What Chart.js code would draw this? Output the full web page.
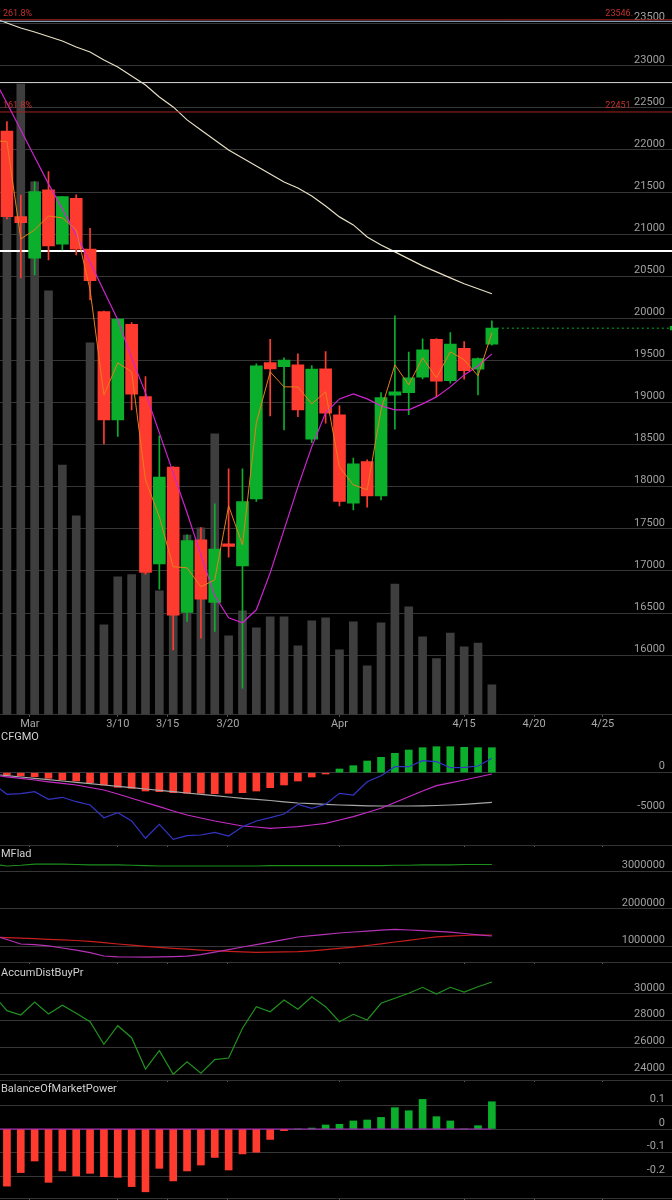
<!DOCTYPE html>
<html>
<head>
<meta charset="utf-8">
<script src="https://cdn.jsdelivr.net/npm/chart.js@4.4.0/dist/chart.umd.min.js"></script>
<style>
  html, body { margin: 0; padding: 0; background: #000; }
  #wrap { position: relative; width: 672px; height: 1200px; background: #000; overflow: hidden; }
  #wrap canvas { position: absolute; left: 0; }
</style>
</head>
<body>
<div id="wrap">
  <canvas id="cMain" width="672" height="732" style="top:0px"></canvas>
  <canvas id="cCfg" width="672" height="115" style="top:732px"></canvas>
  <canvas id="cMf" width="672" height="117" style="top:847px"></canvas>
  <canvas id="cAd" width="672" height="118" style="top:964px"></canvas>
  <canvas id="cBomp" width="672" height="118" style="top:1082px"></canvas>
</div>
<script>
// x axis: trading day index, with date labels
const xTickPos = [1.66, 8, 11.6, 15.95, 24, 33, 38.05, 43];
const xTickLabels = ['Mar', '3/10', '3/15', '3/20', 'Apr', '4/15', '4/20', '4/25'];

// daily candles (index 0 = first visible session)
const opens  = [22225, 21208, 20714, 21525, 20880, 21426, 20824, 20080, 18794, 19930, 19071, 17084, 18232, 16506, 17369, 16625, 17322, 17060,
                17856, 19474, 19427, 19447, 18565, 19400, 18853, 17805, 18299, 17891, 19087, 19118, 19301, 19752, 19261, 19645, 19396, 19693];
const highs  = [22336, 21465, 21624, 21742, 21450, 21466, 21070, 20085, 20000, 19950, 19308, 18604, 18240, 17428, 17515, 17797, 18212, 18212,
                19460, 19752, 19530, 19578, 19440, 19605, 18960, 18339, 18320, 19118, 20029, 19598, 19756, 19760, 19830, 19724, 19530, 19970];
const lows   = [21180, 20480, 20516, 20694, 20813, 20753, 20219, 18509, 18596, 18913, 16960, 16784, 16063, 16399, 16202, 16280, 17164, 15608,
                17824, 18841, 18675, 18833, 18524, 18755, 17773, 17725, 17757, 17844, 18684, 18857, 19280, 19071, 19230, 19277, 19091, 19680];
const closes = [21208, 21137, 21505, 20860, 21445, 20821, 20448, 18794, 19990, 19099, 16981, 18114, 16475, 17361, 16665, 17259, 17290, 17824,
                19435, 19400, 19503, 18913, 19396, 18873, 17824, 18271, 17891, 19059, 19126, 19293, 19625, 19253, 19693, 19379, 19522, 19883];
const volumes = [1440, 1765, 1491, 1186, 699, 557, 1041, 252, 386, 392, 397, 347, 322, 503, 523, 786, 221, 291,
                 243, 274, 274, 193, 263, 271, 182, 260, 137, 257, 366, 302, 218, 157, 229, 190, 201, 84];

// indicator lines: first value is the prior session (index -1), cut off at the left edge
const maFast = [22110, 22099, 20943, 21050, 21216, 21193, 21050, 20340, 19091, 19471, 19364, 18082, 17642, 17049, 17037, 16811, 16894, 17773, 17310,
                18758, 19364, 19186, 19186, 18984, 19127, 18236, 18022, 17963, 18913, 19447, 19210, 19530, 19293, 19602, 19507, 19317, 19828];
const maMid  = [22867, 22558, 22238, 21917, 21597, 21300, 20991, 20670, 20326, 19982, 19530, 19115, 18640, 18165, 17690, 17191, 16704, 16443, 16384,
                16538, 16977, 17488, 17998, 18473, 18877, 19043, 19103, 19043, 18960, 18913, 18913, 18984, 19067, 19186, 19328, 19435, 19578];
const maLong = [23571, 23508, 23449, 23401, 23348, 23294, 23223, 23164, 23069, 22986, 22879, 22772, 22630, 22511, 22357, 22238, 22119, 22000, 21905,
                21810, 21715, 21620, 21549, 21454, 21335, 21205, 21110, 20967, 20872, 20789, 20706, 20623, 20552, 20481, 20410, 20351, 20292];
const priceTicks = [16000, 16500, 17000, 17500, 18000, 18500, 19000, 19500, 20000, 20500, 21000, 21500, 22000, 22500, 23000, 23500];
const fibLevels = [23546, 22451];
const fibPct = ['261.8%', '161.8%'];
const blueLevels = [23528];
const whiteLevels = [22800];
const whiteBoldLevels = [20800];

// CFGMO (histogram per session; lines start with prior session)
const cfgHist   = [-293, -420, -509, -712, -929, -1056, -1272, -1565, -1857, -1984, -2328, -2417, -2544, -2620, -2620, -2671, -2620, -2544,
                   -2328, -1908, -1565, -1056, -547, -165, 471, 890, 1488, 1959, 2468, 2887, 3180, 3307, 3307, 3231, 3180, 3180];
const cfgMain   = [-1374, -2748, -2671, -2417, -3384, -3129, -3689, -4109, -5724, -5088, -6144, -8344, -6564, -8472, -8014, -7925, -7581, -8052, -6869,
                   -6144, -5724, -5253, -4020, -4528, -4020, -2620, -2837, -1145, -382, 763, 763, 1526, 1399, 636, 687, 852, 1832];
const cfgSignal = [-318, -522, -712, -929, -1158, -1348, -1565, -1883, -2201, -2709, -3256, -3791, -4325, -4872, -5381, -5762, -6144, -6462, -6780,
                   -6907, -7072, -6971, -6869, -6653, -6436, -6017, -5597, -5063, -4528, -3791, -3053, -2328, -1654, -1285, -929, -547, -165];
const cfgSlow   = [-204, -382, -547, -725, -890, -1056, -1221, -1399, -1565, -1743, -1908, -2073, -2239, -2417, -2582, -2748, -2926, -3091, -3269,
                   -3384, -3536, -3702, -3854, -3930, -4020, -4109, -4159, -4210, -4236, -4236, -4236, -4210, -4172, -4109, -4020, -3905, -3765];
const cfgTicks = [-5000, 0];

// MFlad
const mfGreen = [3200000, 3150000, 3170000, 3200000, 3200000, 3200000, 3190000, 3180000, 3180000, 3180000, 3170000, 3160000, 3150000, 3150000,
                 3150000, 3150000, 3150000, 3150000, 3150000, 3150000, 3160000, 3160000, 3160000, 3160000, 3160000, 3160000, 3160000, 3160000,
                 3160000, 3170000, 3170000, 3180000, 3180000, 3180000, 3190000, 3190000, 3190000];
const mfRed   = [1242000, 1226000, 1210000, 1196000, 1180000, 1164000, 1148000, 1124000, 1089000, 1054000, 1022000, 989000, 962000, 935000,
                 914000, 890000, 873000, 857000, 841000, 831000, 836000, 841000, 847000, 871000, 901000, 935000, 970000, 1013000, 1059000,
                 1108000, 1153000, 1202000, 1245000, 1266000, 1282000, 1296000, 1296000];
const mfMag   = [1293000, 1175000, 1054000, 1038000, 1003000, 946000, 890000, 820000, 731000, 707000, 704000, 699000, 710000, 715000,
                 726000, 766000, 836000, 903000, 973000, 1035000, 1102000, 1172000, 1242000, 1280000, 1315000, 1349000, 1376000, 1401000,
                 1425000, 1449000, 1430000, 1414000, 1395000, 1371000, 1336000, 1301000, 1269000];
const mfTicks = [1000000, 2000000, 3000000];

// AccumDistBuyPr
const adLine = [29948, 28748, 28425, 29400, 28500, 29153, 28553, 27923, 26228, 27623, 26723, 24375, 25748, 23978, 24923, 24053, 25073, 25200, 27428,
                29048, 28673, 29550, 28853, 29798, 29048, 27923, 28478, 28050, 29303, 29678, 30053, 30503, 30000, 30503, 30150, 30548, 30900];
const adTicks = [24000, 26000, 28000, 30000];

// BalanceOfMarketPower
const bompBars = [-0.241, -0.184, -0.135, -0.225, -0.177, -0.198, -0.187, -0.201, -0.204, -0.243, -0.265, -0.166, -0.219, -0.177, -0.152,
                  -0.120, -0.173, -0.105, -0.098, -0.044, -0.007, 0, 0.004, 0.017, 0.020, 0.034, 0.038, 0.049, 0.090, 0.077, 0.125,
                  0.052, 0.034, 0, 0.014, 0.115];
const bompSignal = [0, 0, 0, 0, 0, 0, 0, 0, 0, 0, 0, 0, 0, 0, 0, 0, 0, 0, 0, 0, 0, 0, 0, 0, 0, 0, 0, 0, 0, 0, 0, 0, 0, 0, 0, 0, 0];
const bompTicks = [-0.2, -0.1, 0, 0.1];

const RED = '#ff3b30';
const GREEN = '#0caf2c';
const FONT = 'Roboto, "Liberation Sans", sans-serif';

Chart.defaults.font.family = FONT;
Chart.defaults.color = '#a0a0a0';
Chart.defaults.animation = false;
Chart.defaults.events = [];
Chart.defaults.plugins.legend.display = false;
Chart.defaults.plugins.tooltip.enabled = false;

const pts = (arr, start) => arr.map((y, i) => ({ x: i + (start || 0), y: y }));
const X_MIN = -0.5, X_MAX = 48;
const LAYOUT = { autoPadding: false, padding: 0 };

function xAxis(showLabels) {
  return {
    type: 'linear', min: X_MIN, max: X_MAX, offset: false,
    afterBuildTicks: s => { s.ticks = xTickPos.map(v => ({ value: v })); },
    afterFit: s => { s.paddingLeft = 0; s.paddingRight = 0; },
    grid: { display: true, drawOnChartArea: false, drawTicks: true, tickLength: 2, color: '#5a5a5a', offset: false },
    border: { display: true, color: '#333' },
    ticks: showLabels
      ? { display: true, autoSkip: false, maxRotation: 0, padding: 1, color: '#a8a8a8', font: { size: 11 }, callback: (v, i) => xTickLabels[i] }
      : { display: false }
  };
}

function yAxis(min, max, tickVals) {
  return {
    type: 'linear', position: 'right', min: min, max: max,
    afterBuildTicks: s => { s.ticks = tickVals.map(v => ({ value: v })); },
    afterFit: s => { s.width = 0; s.paddingTop = 0; s.paddingBottom = 0; },
    grid: { color: '#363636', drawTicks: false },
    border: { display: false },
    ticks: { mirror: true, padding: -7, labelOffset: -6, color: '#a0a0a0', font: { size: 11 }, callback: v => String(v) }
  };
}

function titlePlugin(text, dy) {
  return {
    id: 'panelTitle',
    afterDraw(chart) {
      const c = chart.ctx;
      c.save();
      c.font = '11px ' + FONT;
      c.fillStyle = '#d0d0d0';
      c.textBaseline = 'middle';
      c.textAlign = 'left';
      c.fillText(text, chart.chartArea.left + 1, chart.chartArea.top + dy);
      c.restore();
    }
  };
}

function hline(v, color, width) {
  return {
    type: 'line', data: [{ x: X_MIN, y: v }, { x: X_MAX, y: v }],
    borderColor: color, borderWidth: width, pointRadius: 0, pointHoverRadius: 0, order: 8
  };
}

// line series that begin one session before the first candle
const lineDs = (arr, color, order, width) => ({
  type: 'line', data: pts(arr, -1), borderColor: color, borderWidth: width || 1.2,
  pointRadius: 0, pointHoverRadius: 0, tension: 0, order: order
});

// ---------- main price panel ----------
const candleColors = closes.map((c, i) => c >= opens[i] ? GREEN : RED);
const last = closes.length - 1;

const fibPlugin = {
  id: 'fibText',
  afterDatasetsDraw(chart) {
    const c = chart.ctx, y = chart.scales.y;
    c.save();
    c.font = '9px ' + FONT;
    c.fillStyle = '#c2322c';
    c.textBaseline = 'middle';
    fibLevels.forEach((lv, k) => {
      const py = y.getPixelForValue(lv) - 6.5;
      c.textAlign = 'left';
      c.fillText(fibPct[k], 3, py);
      c.textAlign = 'right';
      c.fillText(lv + '.', 633, py);
    });
    c.restore();
  }
};

new Chart(document.getElementById('cMain'), {
  type: 'bar',
  data: {
    datasets: [
      { type: 'bar', data: pts(volumes), yAxisID: 'yv', backgroundColor: '#3e3e3e', barThickness: 8, grouped: false, order: 10 },
      lineDs(maLong, '#e6dfc4', 9, 1.2),
      ...fibLevels.map(v => hline(v, '#a3231f', 1)),
      ...blueLevels.map(v => hline(v, '#9cc4de', 1)),
      ...whiteLevels.map(v => hline(v, '#d8d8d8', 1)),
      ...whiteBoldLevels.map(v => hline(v, '#ffffff', 2)),
      { type: 'bar', data: lows.map((l, i) => ({ x: i, y: [l, highs[i]] })), backgroundColor: candleColors,
        barThickness: 1, grouped: false, order: 5 },
      { type: 'bar', data: opens.map((o, i) => ({ x: i, y: [o, closes[i]] })), backgroundColor: candleColors,
        barThickness: 12, grouped: false, order: 4, minBarLength: 2 },
      { type: 'line', data: [{ x: last, y: closes[last] }, { x: X_MAX, y: closes[last] }], borderColor: GREEN,
        borderWidth: 1, borderDash: [2, 3], pointRadius: [0, 3], pointHoverRadius: 0, pointStyle: 'rect',
        pointBackgroundColor: GREEN, pointBorderWidth: 0, order: 3 },
      lineDs(maMid, '#cf24cf', 2, 1.2),
      lineDs(maFast, '#e67e1c', 1, 1)
    ]
  },
  options: {
    responsive: false,
    layout: LAYOUT,
    scales: {
      x: xAxis(true),
      y: yAxis(15291, 23781, priceTicks),
      yv: { type: 'linear', position: 'left', display: false, min: 0, max: 2000 }
    }
  },
  plugins: [fibPlugin]
});

// ---------- CFGMO ----------
new Chart(document.getElementById('cCfg'), {
  type: 'bar',
  data: {
    datasets: [
      { type: 'bar', data: pts(cfgHist), backgroundColor: cfgHist.map(v => v >= 0 ? GREEN : RED), barThickness: 7, grouped: false, order: 5 },
      lineDs(cfgSlow, '#a8a8a8', 3),
      lineDs(cfgSignal, '#c62cc6', 2),
      lineDs(cfgMain, '#3434c4', 1)
    ]
  },
  options: {
    responsive: false, layout: LAYOUT,
    scales: { x: xAxis(false), y: yAxis(-9197, 5177, cfgTicks) }
  },
  plugins: [titlePlugin('CFGMO', 5)]
});

// ---------- MFlad ----------
new Chart(document.getElementById('cMf'), {
  type: 'line',
  data: {
    datasets: [
      lineDs(mfGreen, '#1d8f1d', 3),
      lineDs(mfRed, '#c81e1e', 2),
      lineDs(mfMag, '#b532b5', 1)
    ]
  },
  options: {
    responsive: false, layout: LAYOUT,
    scales: { x: xAxis(false), y: yAxis(570000, 3661000, mfTicks) }
  },
  plugins: [titlePlugin('MFlad', 7)]
});

// ---------- AccumDistBuyPr ----------
new Chart(document.getElementById('cAd'), {
  type: 'line',
  data: { datasets: [lineDs(adLine, '#21921f', 1)] },
  options: {
    responsive: false, layout: LAYOUT,
    scales: { x: xAxis(false), y: yAxis(23550, 32250, adTicks) }
  },
  plugins: [titlePlugin('AccumDistBuyPr', 9)]
});

// ---------- BalanceOfMarketPower ----------
new Chart(document.getElementById('cBomp'), {
  type: 'bar',
  data: {
    datasets: [
      { type: 'bar', data: pts(bompBars), backgroundColor: bompBars.map(v => v >= 0 ? GREEN : RED), barThickness: 7, grouped: false, order: 5 },
      lineDs(bompSignal, '#b02cc8', 1)
    ]
  },
  options: {
    responsive: false, layout: LAYOUT,
    scales: { x: xAxis(false), y: yAxis(-0.2911, 0.1983, bompTicks) }
  },
  plugins: [titlePlugin('BalanceOfMarketPower', 7)]
});
</script>
</body>
</html>
